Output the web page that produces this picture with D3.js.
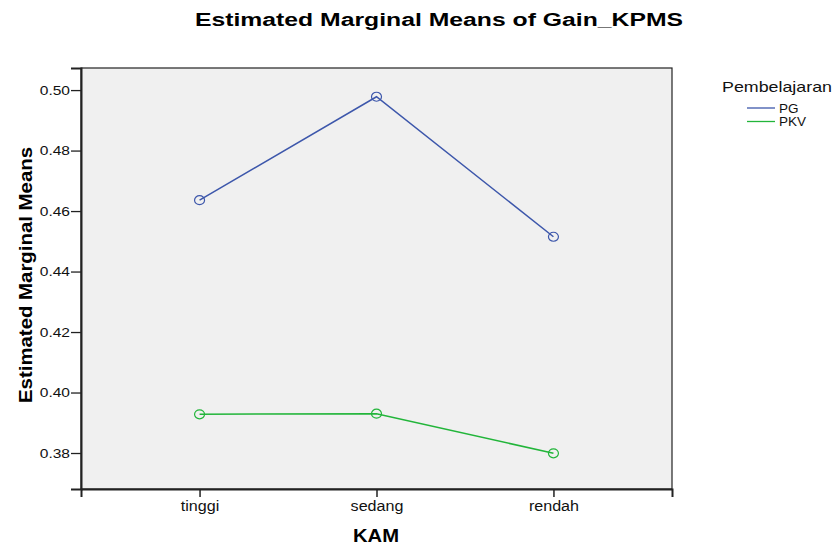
<!DOCTYPE html>
<html>
<head>
<meta charset="utf-8">
<script src="https://cdn.jsdelivr.net/npm/d3@7"></script>
<style>
  body { margin: 0; background: #fff; }
  text { font-family: "Liberation Sans", Arial, sans-serif; }
</style>
</head>
<body>
<script>
var width = 838,
  height = 546;

// data
var categories = ["tinggi", "sedang", "rendah"];
var seriesNames = ["PG", "PKV"];
var pgValues = [0.4636, 0.4978, 0.4515];
var pkvValues = [0.3928, 0.3930, 0.3799];
var yTicks = [0.38, 0.40, 0.42, 0.44, 0.46, 0.48, 0.50];
var colors = ["#3d57ab", "#22b53a"];

var series = [
  { name: seriesNames[0], values: pgValues, color: colors[0] },
  { name: seriesNames[1], values: pkvValues, color: colors[1] }
];

var plot = { left: 81, right: 672, top: 68, bottom: 489 };
// the original text is drawn a bit wide
var stretch = 1.15;

var svg = d3.select("body").append("svg")
  .attr("width", width)
  .attr("height", height);

// scales
var x = d3.scalePoint()
  .domain(categories)
  .range([plot.left, plot.right])
  .padding(0.67);

var y = d3.scaleLinear()
  .domain([0.3681, 0.5073])
  .range([plot.bottom, plot.top]);

// plot background
svg.append("rect")
  .attr("x", plot.left)
  .attr("y", plot.top)
  .attr("width", plot.right - plot.left)
  .attr("height", plot.bottom - plot.top)
  .attr("fill", "#f0f0f0")
  .attr("stroke", "#222")
  .attr("stroke-width", 1.2);

function widen(sel, k) {
  sel.each(function () {
    var w = this.getComputedTextLength();
    d3.select(this)
      .attr("textLength", w * (k || stretch))
      .attr("lengthAdjust", "spacingAndGlyphs");
  });
}

// axes
var yAxis = svg.append("g")
  .attr("transform", "translate(" + plot.left + ",0)")
  .call(d3.axisLeft(y).tickValues(yTicks).tickFormat(d3.format(".2f")).tickSize(10).tickPadding(1));
yAxis.select(".domain").attr("stroke", "#222").attr("stroke-width", 2);
yAxis.selectAll(".tick line").attr("stroke", "#222").attr("stroke-width", 1.3);
yAxis.selectAll(".tick text")
  .attr("font-size", 13.5)
  .attr("fill", "#111")
  .style("font-family", "'Liberation Sans', Arial, sans-serif")
  .call(widen);

var xAxis = svg.append("g")
  .attr("transform", "translate(0," + plot.bottom + ")")
  .call(d3.axisBottom(x).tickSize(8).tickPadding(4));
xAxis.select(".domain").attr("stroke", "#222").attr("stroke-width", 2);
xAxis.selectAll(".tick line").attr("stroke", "#222").attr("stroke-width", 1.5);
xAxis.selectAll(".tick text")
  .attr("font-size", 14)
  .attr("fill", "#111")
  .style("font-family", "'Liberation Sans', Arial, sans-serif")
  .call(widen);

// lines + markers
var line = d3.line()
  .x(function (d, i) { return x(categories[i]); })
  .y(function (d) { return y(d); });

series.forEach(function (s) {
  svg.append("path")
    .datum(s.values)
    .attr("d", line)
    .attr("fill", "none")
    .attr("stroke", s.color)
    .attr("stroke-width", 1.5);

  svg.selectAll(null)
    .data(s.values)
    .enter()
    .append("ellipse")
    .attr("cx", function (d, i) { return x(categories[i]); })
    .attr("cy", function (d) { return y(d); })
    .attr("rx", 5)
    .attr("ry", 4.5)
    .attr("fill", "none")
    .attr("stroke", s.color)
    .attr("stroke-width", 1.2);
});

// titles
svg.append("text")
  .attr("x", 439)
  .attr("y", 26)
  .attr("text-anchor", "middle")
  .attr("font-size", 18)
  .attr("font-weight", "bold")
  .attr("textLength", 488)
  .attr("lengthAdjust", "spacingAndGlyphs")
  .text("Estimated Marginal Means of Gain_KPMS");

svg.append("text")
  .attr("x", 376)
  .attr("y", 542)
  .attr("text-anchor", "middle")
  .attr("font-size", 19)
  .attr("font-weight", "bold")
  .attr("textLength", 46)
  .attr("lengthAdjust", "spacingAndGlyphs")
  .text("KAM");

svg.append("text")
  .attr("transform", "translate(32,275) rotate(-90)")
  .attr("text-anchor", "middle")
  .attr("font-size", 18)
  .attr("font-weight", "bold")
  .attr("textLength", 256)
  .attr("lengthAdjust", "spacingAndGlyphs")
  .text("Estimated Marginal Means");

// legend
var legend = svg.append("g").attr("transform", "translate(722,0)");
legend.append("text")
  .attr("x", 0)
  .attr("y", 92)
  .attr("font-size", 15)
  .attr("fill", "#111")
  .attr("textLength", 110)
  .attr("lengthAdjust", "spacingAndGlyphs")
  .text("Pembelajaran");

var item = legend.selectAll(".item")
  .data(series)
  .enter()
  .append("g")
  .attr("class", "item")
  .attr("transform", function (d, i) { return "translate(0," + (108 + i * 13.5) + ")"; });
item.append("line")
  .attr("x1", 25).attr("x2", 53)
  .attr("y1", 0).attr("y2", 0)
  .attr("stroke", function (d) { return d.color; })
  .attr("stroke-width", 1.3);
item.append("text")
  .attr("x", 57)
  .attr("y", 4.5)
  .attr("font-size", 12.5)
  .attr("fill", "#111")
  .text(function (d) { return d.name; })
  .call(widen, 1.08);
</script>
</body>
</html>
